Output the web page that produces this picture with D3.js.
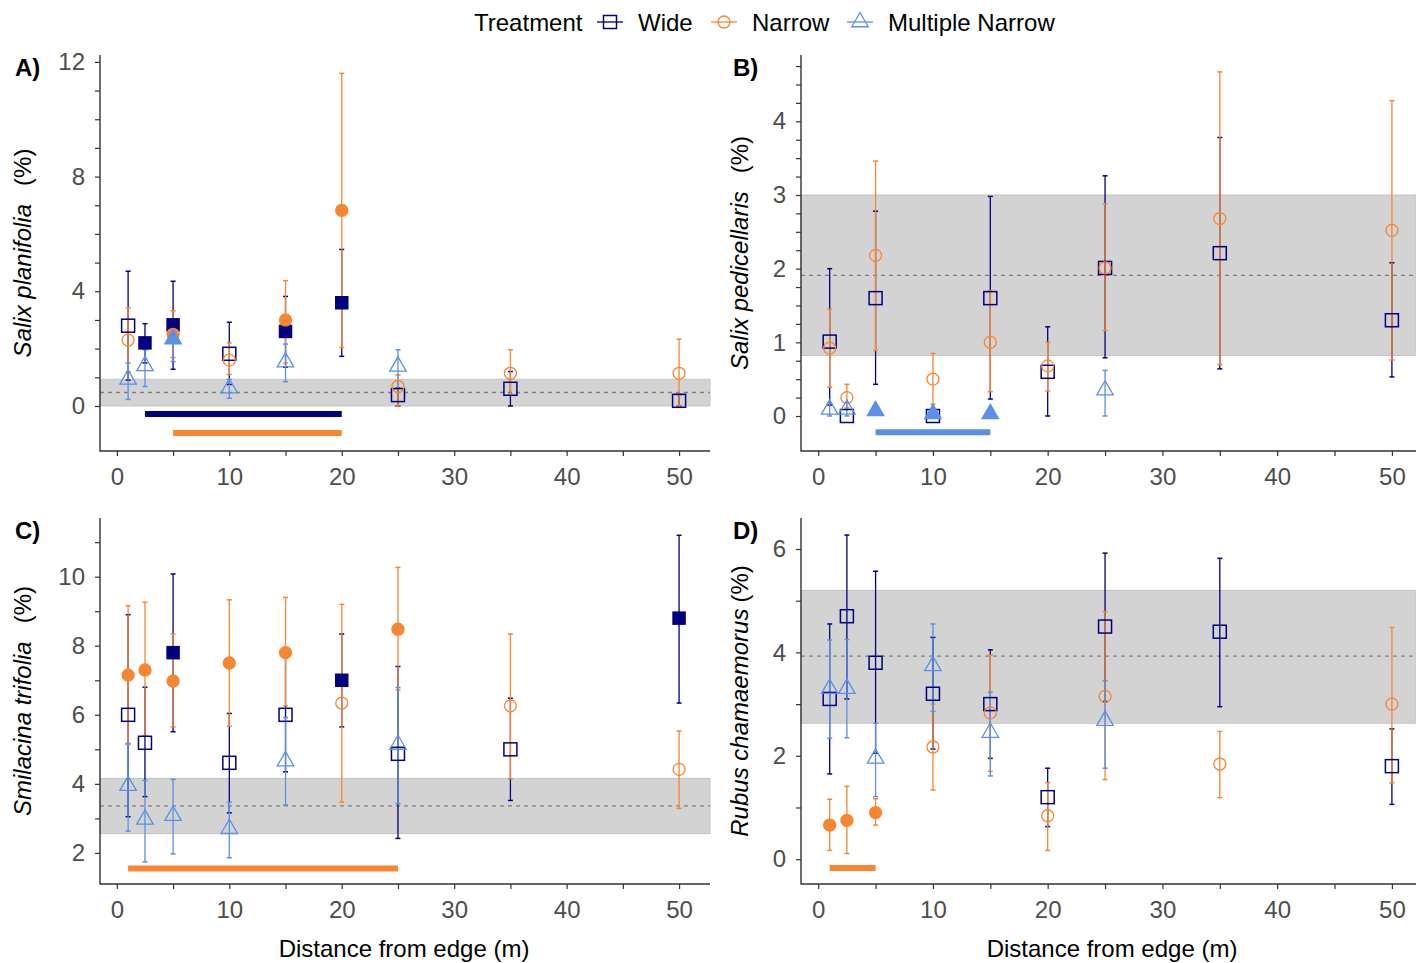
<!DOCTYPE html>
<html>
<head>
<meta charset="utf-8">
<script src="https://cdn.jsdelivr.net/npm/d3@7"></script>
<style>
  body { margin: 0; background: #fff; }
  text { font-family: "Liberation Sans", Arial, sans-serif; }
</style>
</head>
<body>
<svg id="chart" width="1416" height="963"></svg>
<script>
// distances sampled along each transect
const distances = [1, 2.5, 5, 10, 15, 20, 25, 35, 50];
const treatments = ["Wide", "Narrow", "Multiple Narrow"];
const xTicks = [0, 5, 10, 15, 20, 25, 30, 35, 40, 45, 50];

// A) Salix planifolia
const aWideMean = [2.8, 2.2, 2.83, 1.82, 2.6, 3.6, 0.38, 0.6, 0.18];
const aWideLow  = [0.9, 1.5, 1.28, 0.75, 1.35, 1.73, 0, 0, 0];
const aWideHigh = [4.7, 2.87, 4.35, 2.92, 3.82, 5.46, 0.62, 1.2, 0.4];
const aWideSig  = [0, 1, 1, 0, 1, 1, 0, 0, 0];
const aNarMean  = [2.3, null, 2.5, 1.6, 3.0, 6.82, 0.68, 1.14, 1.14];
const aNarLow   = [1.2, null, 1.69, 1.1, 1.5, 2.04, 0, 0.4, 0];
const aNarHigh  = [3.42, null, 3.32, 2.2, 4.37, 11.6, 1.08, 1.96, 2.33];
const aNarSig   = [0, 0, 1, 0, 1, 1, 0, 0, 0];
const aMnMean   = [0.93, 1.4, 2.33, 0.62, 1.53, null, 1.38, null, null];
const aMnLow    = [0.23, 0.68, 1.55, 0.27, 0.85, null, 0.62, null, null];
const aMnHigh   = [1.5, 1.96, 2.6, 0.93, 2.16, null, 1.96, null, null];
const aMnSig    = [0, 0, 1, 0, 0, 0, 0, 0, 0];
const aBand = [0, 0.93, 0.47];            // low, high, mean of reference
const aSigBars = [[0, 2.5, 20, -0.28], [1, 5, 20, -0.94]]; // treatment, from, to, level

// B) Salix pedicellaris
const bWideMean = [1.01, 0, 1.6, 0, 1.6, 0.6, 2.01, 2.21, 1.3];
const bWideLow  = [0.15, 0, 0.43, 0, 0.23, 0, 0.79, 0.64, 0.53];
const bWideHigh = [2.0, 0, 2.78, 0, 2.98, 1.21, 3.26, 3.78, 2.08];
const bWideSig  = [0, 0, 0, 0, 0, 0, 0, 0, 0];
const bNarMean  = [0.92, 0.25, 2.18, 0.5, 1.0, 0.68, 2.01, 2.68, 2.52];
const bNarLow   = [0.39, 0.11, 0.89, 0.16, 0.33, 0.34, 1.16, 0.7, 0.76];
const bNarHigh  = [1.45, 0.43, 3.46, 0.85, 1.7, 1.0, 2.88, 4.67, 4.28];
const bNarSig   = [0, 0, 0, 0, 0, 0, 0, 0, 0];
const bMnMean   = [0.09, 0.09, 0.07, 0.03, 0.03, null, 0.35, null, null];
const bMnLow    = [0, 0, 0.07, 0.03, 0.03, null, 0, null, null];
const bMnHigh   = [0.18, 0.18, 0.07, 0.03, 0.03, null, 0.62, null, null];
const bMnSig    = [0, 0, 1, 1, 1, 0, 0, 0, 0];
const bBand = [0.82, 3.0, 1.91];
const bSigBars = [[2, 5, 15, -0.22]];

// C) Smilacina trifolia
const cWideMean = [6.0, 5.19, 7.8, 4.61, 6.0, 7.0, 4.87, 5.0, 8.8];
const cWideLow  = [3.05, 3.63, 5.51, 3.16, 4.35, 5.65, 2.42, 3.52, 6.34];
const cWideHigh = [8.9, 6.8, 10.08, 6.04, 7.66, 8.34, 7.4, 6.48, 11.2];
const cWideSig  = [0, 0, 1, 0, 0, 1, 0, 0, 1];
const cNarMean  = [7.15, 7.3, 6.98, 7.5, 7.8, 6.34, 8.48, 6.26, 4.42];
const cNarLow   = [5.14, 5.4, 5.65, 5.67, 6.26, 3.47, 6.72, 4.15, 3.29];
const cNarHigh  = [9.16, 9.26, 8.34, 9.33, 9.4, 9.2, 10.27, 8.34, 5.53];
const cNarSig   = [1, 1, 1, 1, 1, 0, 1, 0, 0];
const cMnMean   = [3.95, 2.97, 3.08, 2.7, 4.66, null, 5.14, null, null];
const cMnLow    = [2.63, 1.74, 1.97, 1.86, 3.39, null, 3.43, null, null];
const cMnHigh   = [5.17, 4.1, 4.13, 3.47, 5.92, null, 6.79, null, null];
const cMnSig    = [0, 0, 0, 0, 0, 0, 0, 0, 0];
const cBand = [2.56, 4.16, 3.36];
const cSigBars = [[1, 1, 25, 1.55]];

// D) Rubus chamaemorus
const dWideMean = [3.1, 4.7, 3.8, 3.2, 3.0, 1.2, 4.5, 4.4, 1.8];
const dWideLow  = [1.65, 3.1, 2.05, 2.13, 1.95, 0.63, 3.05, 2.95, 1.06];
const dWideHigh = [4.55, 6.27, 5.57, 4.29, 4.05, 1.76, 5.92, 5.82, 2.52];
const dWideSig  = [0, 0, 0, 0, 0, 0, 0, 0, 0];
const dNarMean  = [0.66, 0.75, 0.9, 2.17, 2.83, 0.84, 3.15, 1.84, 3.0];
const dNarLow   = [0.17, 0.11, 0.66, 1.34, 1.7, 0.17, 1.54, 1.19, 1.48];
const dNarHigh  = [1.16, 1.41, 1.17, 3.0, 3.95, 1.48, 4.79, 2.47, 4.48];
const dNarSig   = [1, 1, 1, 0, 0, 0, 0, 0, 0];
const dMnMean   = [3.3, 3.3, 1.95, 3.74, 2.45, null, 2.68, null, null];
const dMnLow    = [2.34, 2.35, 1.21, 2.86, 1.61, null, 1.76, null, null];
const dMnHigh   = [4.24, 4.25, 2.63, 4.55, 3.23, null, 3.45, null, null];
const dMnSig    = [0, 0, 0, 0, 0, 0, 0, 0, 0];
const dBand = [2.63, 5.2, 3.93];
const dSigBars = [[1, 1, 5, -0.17]];

const colors = ["#000080", "#F8852F", "#5B8FE8"];
const shapes = ["square", "circle", "triangle"];

const svg = d3.select("#chart");

function series(mean, low, high, sig) {
  return distances.map((d, i) => ({ d, m: mean[i], lo: low[i], hi: high[i], sig: sig[i] }))
    .filter(o => o.m !== null);
}

function marker(sel, shape, color, filled, cx, cy) {
  const fill = filled ? color : "none";
  if (shape === "square") {
    const s = filled ? 12 : 13;
    sel.append("rect").attr("x", cx - s / 2).attr("y", cy - s / 2)
      .attr("width", s).attr("height", s)
      .attr("fill", fill).attr("stroke", color).attr("stroke-width", 1.5);
  } else if (shape === "circle") {
    sel.append("circle").attr("cx", cx).attr("cy", cy).attr("r", 6)
      .attr("fill", fill).attr("stroke", color).attr("stroke-width", 1.3);
  } else {
    const r = 9.5, h = r * Math.sqrt(3) / 2;
    sel.append("path")
      .attr("d", `M${cx},${cy - r}L${cx + h},${cy + r / 2}L${cx - h},${cy + r / 2}Z`)
      .attr("fill", fill).attr("stroke", color).attr("stroke-width", 1.3);
  }
}

function drawPanel(p) {
  const g = svg.append("g");
  const x = d3.scaleLinear().domain(p.xDomain).range([p.left, p.right]);
  const y = d3.scaleLinear().domain(p.yDomain).range([p.bottom, p.top]);

  // reference band and mean
  g.append("rect")
    .attr("x", p.left).attr("width", p.right - p.left)
    .attr("y", y(p.band[1])).attr("height", y(p.band[0]) - y(p.band[1]))
    .attr("fill", "#d3d3d3").attr("stroke", "#c4c4c4").attr("stroke-width", 1);
  g.append("line")
    .attr("x1", p.left).attr("x2", p.right)
    .attr("y1", y(p.band[2])).attr("y2", y(p.band[2]))
    .attr("stroke", "#7f7f7f").attr("stroke-width", 1.3).attr("stroke-dasharray", "4,4");

  // significance bars
  p.sigBars.forEach(s => {
    g.append("line")
      .attr("x1", x(s[1])).attr("x2", x(s[2]))
      .attr("y1", y(s[3])).attr("y2", y(s[3]))
      .attr("stroke", colors[s[0]]).attr("stroke-width", 6);
  });

  // error bars
  p.series.forEach((ser, t) => {
    ser.forEach(o => {
      if (o.hi === o.lo) return;
      const cx = x(o.d);
      g.append("line").attr("x1", cx).attr("x2", cx).attr("y1", y(o.lo)).attr("y2", y(o.hi))
        .attr("stroke", colors[t]).attr("stroke-width", 1.3);
      [o.lo, o.hi].forEach(v => g.append("line")
        .attr("x1", cx - 2.5).attr("x2", cx + 2.5).attr("y1", y(v)).attr("y2", y(v))
        .attr("stroke", colors[t]).attr("stroke-width", 1.5));
    });
  });

  // points
  p.series.forEach((ser, t) => {
    ser.forEach(o => marker(g, shapes[t], colors[t], o.sig === 1, x(o.d), y(o.m)));
  });

  // axes
  const xAxis = d3.axisBottom(x).tickValues(xTicks).tickSize(5).tickPadding(12)
    .tickFormat(d => d % 10 === 0 ? d : "");
  const gx = g.append("g").attr("transform", `translate(0,${p.bottom})`).call(xAxis);
  const yAxis = d3.axisLeft(y).tickValues(p.yTicks).tickSize(5).tickPadding(10)
    .tickFormat(d => p.yLabels.includes(d) ? d : "");
  const gy = g.append("g").attr("transform", `translate(${p.left},0)`).call(yAxis);
  [gx, gy].forEach(a => {
    a.select(".domain").remove();
    a.selectAll(".tick line").attr("stroke", "#333").attr("stroke-width", 1.2);
    a.selectAll(".tick text").attr("fill", "#4d4d4d").style("font-size", "24px");
  });
  g.append("path")
    .attr("d", `M${p.left},${p.top}V${p.bottom}H${p.right}`)
    .attr("fill", "none").attr("stroke", "#333").attr("stroke-width", 1.4);

  // labels
  g.append("text").attr("x", p.tagX).attr("y", p.top + 21)
    .style("font-size", "24px").style("font-weight", "bold").text(p.tag);
  const yt = g.append("text")
    .attr("transform", `translate(${p.titleY},${(p.top + p.bottom) / 2}) rotate(-90)`)
    .attr("text-anchor", "middle").attr("dy", "0.35em").style("font-size", "24px");
  yt.append("tspan").style("font-style", "italic").text(p.species);
  yt.append("tspan").attr("dx", p.gap).text("(%)");
  if (p.xTitle) {
    g.append("text").attr("x", p.xTitle).attr("y", p.bottom + 73)
      .attr("text-anchor", "middle").style("font-size", "24px").text("Distance from edge (m)");
  }
}

const panels = [
  { tag: "A)", tagX: 15, titleY: 23, species: "Salix planifolia", gap: 18, left: 100, right: 710, top: 55, bottom: 451,
    xDomain: [-1.5, 52.75], yDomain: [-1.57, 12.24], yTicks: d3.range(0, 13, 1), yLabels: [0, 4, 8, 12],
    band: aBand, sigBars: aSigBars,
    series: [series(aWideMean, aWideLow, aWideHigh, aWideSig), series(aNarMean, aNarLow, aNarHigh, aNarSig),
             series(aMnMean, aMnLow, aMnHigh, aMnSig)] },
  { tag: "B)", tagX: 733, titleY: 740, species: "Salix pedicellaris", gap: 18, left: 801, right: 1416, top: 55, bottom: 451,
    xDomain: [-1.5, 52.1], yDomain: [-0.475, 4.9], yTicks: d3.range(0, 4.8, 0.25), yLabels: [0, 1, 2, 3, 4],
    band: bBand, sigBars: bSigBars,
    series: [series(bWideMean, bWideLow, bWideHigh, bWideSig), series(bNarMean, bNarLow, bNarHigh, bNarSig),
             series(bMnMean, bMnLow, bMnHigh, bMnSig)] },
  { tag: "C)", tagX: 15, titleY: 23, species: "Smilacina trifolia", gap: 18, left: 100, right: 710, top: 518, bottom: 884, xTitle: 404,
    xDomain: [-1.5, 52.75], yDomain: [1.1, 11.7], yTicks: d3.range(2, 12, 1), yLabels: [2, 4, 6, 8, 10],
    band: cBand, sigBars: cSigBars,
    series: [series(cWideMean, cWideLow, cWideHigh, cWideSig), series(cNarMean, cNarLow, cNarHigh, cNarSig),
             series(cMnMean, cMnLow, cMnHigh, cMnSig)] },
  { tag: "D)", tagX: 733, titleY: 740, species: "Rubus chamaemorus", gap: 6, left: 801, right: 1416, top: 518, bottom: 884, xTitle: 1112,
    xDomain: [-1.5, 52.1], yDomain: [-0.48, 6.6], yTicks: d3.range(0, 7, 1), yLabels: [0, 2, 4, 6],
    band: dBand, sigBars: dSigBars,
    series: [series(dWideMean, dWideLow, dWideHigh, dWideSig), series(dNarMean, dNarLow, dNarHigh, dNarSig),
             series(dMnMean, dMnLow, dMnHigh, dMnSig)] }
];

panels.forEach(drawPanel);

// legend
const legend = svg.append("g").attr("transform", "translate(0,22)");
legend.append("text").attr("x", 474).attr("dy", "0.36em").style("font-size", "24px").text("Treatment");
const keyX = [610, 724, 860];
treatments.forEach((t, i) => {
  legend.append("line").attr("x1", keyX[i] - 13).attr("x2", keyX[i] + 13).attr("y1", 0).attr("y2", 0)
    .attr("stroke", colors[i]).attr("stroke-width", 1.3);
  marker(legend, shapes[i], colors[i], false, keyX[i], 0);
  legend.append("text").attr("x", keyX[i] + 28).attr("dy", "0.36em").style("font-size", "24px").text(t);
});
</script>
</body>
</html>
